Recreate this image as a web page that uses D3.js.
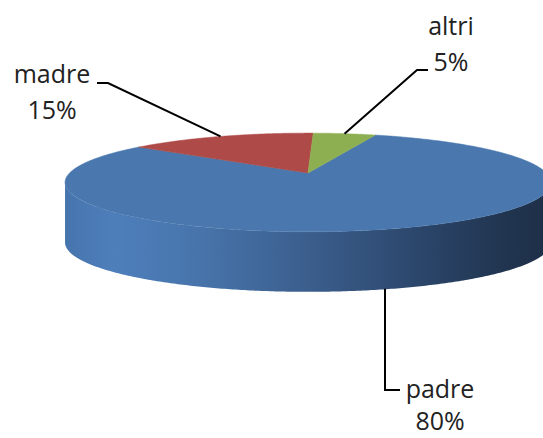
<!DOCTYPE html>
<html>
<head>
<meta charset="utf-8">
<script src="https://cdn.jsdelivr.net/npm/d3@7"></script>
<style>
  body { margin: 0; background: #fff; }
  svg { display: block; }
  text { font-family: "Open Sans", "Liberation Sans", sans-serif; font-size: 25px; fill: #222; }
</style>
</head>
<body>
<div id="chart"></div>
<script>
// data
var categories = ['padre', 'madre', 'altri'];
var values = [80, 15, 5];
var colors = ['#4a78ae', '#ae4a47', '#8eae52'];

var width = 543, height = 438;

// 3d pie geometry (perspective on the top face, side extruded down)
var cx = 308, cy = 173;
var tilt = 11.5 * Math.PI / 180;
var cs = Math.cos(tilt), sn = Math.sin(tilt);
var dist = 5.104, focal = 1217;
var depth = 60;
var firstAngle = 19.5 * Math.PI / 180;

function project(a, drop) {
  var z = Math.cos(a), x = Math.sin(a);
  var w = dist + cs * z;
  return [cx + focal * x / w, cy - focal * sn * z / w + (drop || 0)];
}

function arcPoints(a0, a1, drop) {
  var n = Math.max(2, Math.ceil(Math.abs(a1 - a0) / 0.01));
  var pts = [];
  for (var i = 0; i <= n; i++) pts.push(project(a0 + (a1 - a0) * i / n, drop));
  return pts;
}

var svg = d3.select('#chart').append('svg')
  .attr('width', width)
  .attr('height', height);

var defs = svg.append('defs');
var grad = defs.append('linearGradient')
  .attr('id', 'side')
  .attr('gradientUnits', 'userSpaceOnUse')
  .attr('x1', 65).attr('x2', 551).attr('y1', 0).attr('y2', 0);
[[0, '#4674ad'], [0.1, '#4e7fbb'], [0.3, '#4672a8'], [0.5, '#3b5e8d'], [0.75, '#2a4468'], [0.9, '#213550'], [1, '#1e2f47']]
  .forEach(function(s) { grad.append('stop').attr('offset', s[0]).attr('stop-color', s[1]); });

var pie = d3.pie().sort(null).value(function(d) { return d; })
  .startAngle(firstAngle).endAngle(firstAngle + 2 * Math.PI);
var arcs = pie(values);
var total = d3.sum(values);

var line = d3.line();

// visible part of the side wall
var vis0 = Math.acos(-cs / dist), vis1 = 2 * Math.PI - vis0;
arcs.forEach(function(d, i) {
  [0, 2 * Math.PI].forEach(function(off) {
    var a0 = Math.max(d.startAngle, vis0 + off), a1 = Math.min(d.endAngle, vis1 + off);
    if (a1 <= a0) return;
    var top = arcPoints(a0, a1, 0);
    var bot = arcPoints(a0, a1, depth).reverse();
    svg.append('path')
      .attr('d', line(top.concat(bot)) + 'Z')
      .attr('fill', i === 0 ? 'url(#side)' : d3.color(colors[i]).darker(0.8));
  });
});

// top face
arcs.forEach(function(d, i) {
  var pts = [[cx, cy]].concat(arcPoints(d.startAngle, d.endAngle, 0));
  svg.append('path')
    .attr('d', line(pts) + 'Z')
    .attr('fill', colors[i])
    .attr('stroke', colors[i])
    .attr('stroke-width', 0.5);
});

// labels + leader lines (padre sits at the bottom edge, so a bit smaller)
var labelPos = [[440, 398], [52, 83], [451, 35]];
var labelSize = [23, 25, 25];
var lineGap = [32, 36, 36];
var leaders = [
  function(p) { return [[p[0] - 6, p[1]], [p[0] - 6, 390], [400, 390]]; },
  function(p) { return [p, [108, 83], [97, 83]]; },
  function(p) { return [p, [417, 70], [428, 70]]; }
];

arcs.forEach(function(d, i) {
  var mid = (d.startAngle + d.endAngle) / 2;
  var anchor = i === 0 ? project(mid, depth) : project(mid, 0);
  svg.append('path')
    .attr('d', line(leaders[i](anchor)))
    .attr('fill', 'none')
    .attr('stroke', '#000')
    .attr('stroke-width', 2);

  var g = svg.append('g')
    .attr('transform', 'translate(' + labelPos[i][0] + ',' + labelPos[i][1] + ')')
    .style('font-size', labelSize[i] + 'px');
  g.append('text').attr('text-anchor', 'middle').text(categories[i]);
  g.append('text').attr('text-anchor', 'middle').attr('y', lineGap[i])
    .text(Math.round(values[i] / total * 100) + '%');
});
</script>
</body>
</html>
